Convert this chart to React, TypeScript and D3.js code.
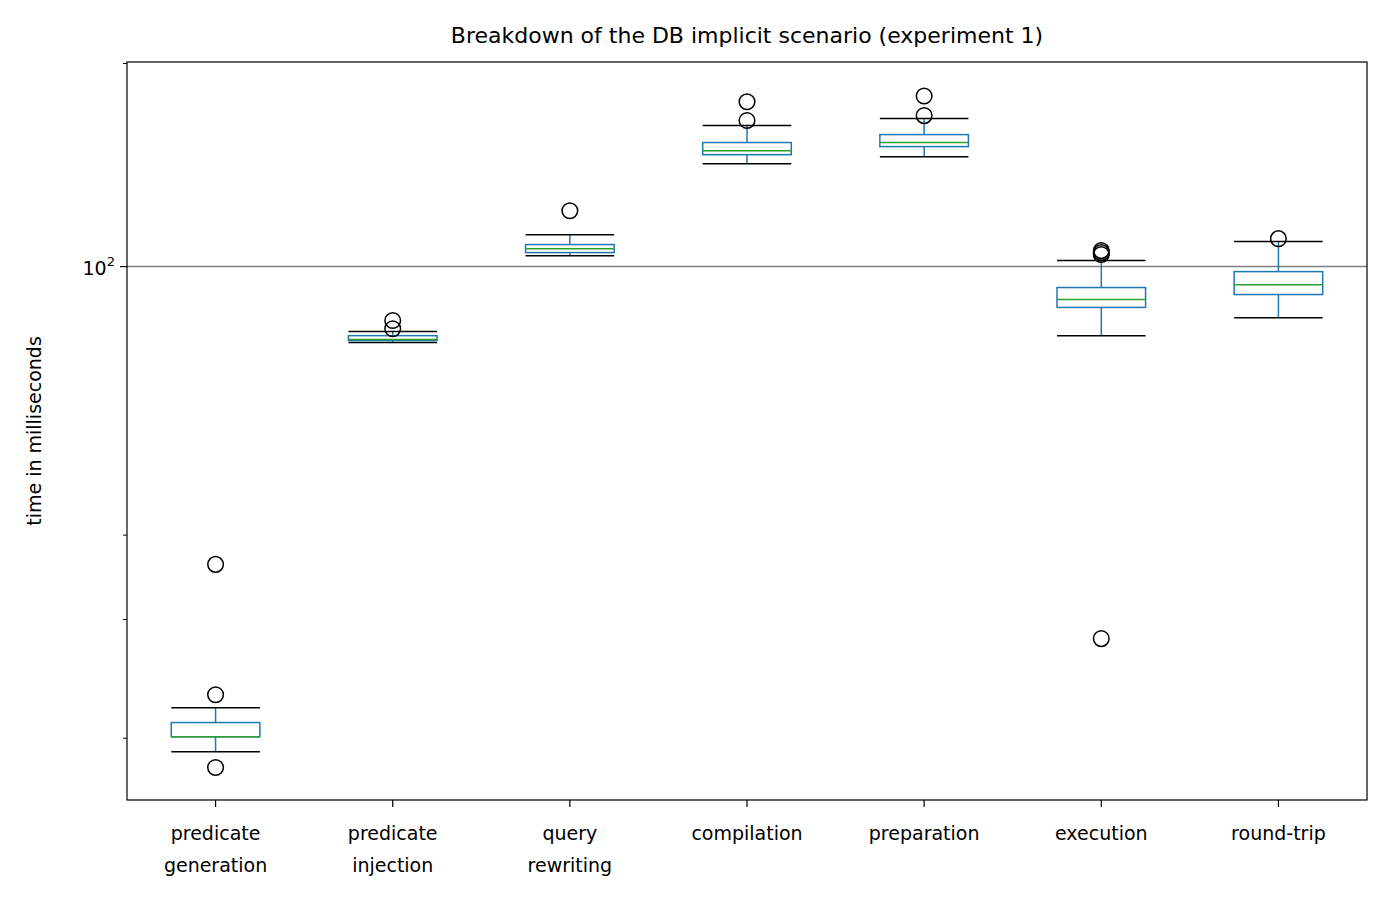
import React from 'react';
import { scaleBand, scaleLog } from 'd3';

const categories = ['predicate\ngeneration', 'predicate\ninjection', 'query\nrewriting', 'compilation', 'preparation', 'execution', 'round-trip'];
const whiskerLow = [19.1, 77.2, 103.8, 142.0, 145.5, 79.0, 84.0];
const q1 = [20.1, 77.7, 104.9, 146.5, 150.6, 87.0, 90.9];
const median = [20.1, 78.0, 106.3, 148.5, 152.7, 89.4, 94.0];
const q3 = [21.1, 79.0, 107.8, 152.7, 156.9, 93.1, 98.3];
const whiskerHigh = [22.2, 80.1, 111.5, 161.8, 165.7, 102.1, 108.9];
const outliers = [
  [18.1, 23.2, 36.2],
  [80.9, 83.2],
  [121.0],
  [164.6, 175.5],
  [167.4, 179.0],
  [104.9, 104.2, 105.6, 28.1],
  [110.0],
];
const minorTicks = [20, 30, 40, 200];

// page coords minus the 8px body margin
const m = { left: 119, top: 54, right: 1359, bottom: 792 };

const App = () => {
  const x = scaleBand().domain(categories).range([m.left, m.right]);
  const y = scaleLog().domain([16.2, 201]).range([m.bottom, m.top]);
  const bw = x.bandwidth() / 2;
  const blue = '#1f77b4';
  const font = 'DejaVu Sans';
  return (
    <svg width={1374} height={885} style={{ display: 'block' }} fontFamily={font}>
      <rect width={1374} height={885} fill="white" />
      <text x={(m.left + m.right) / 2} y={35} textAnchor="middle" fontSize={22}>
        Breakdown of the DB implicit scenario (experiment 1)
      </text>
      <line x1={m.left} x2={m.right} y1={y(100)} y2={y(100)} stroke="#808080" strokeWidth={1.5} />
      {categories.map((c, i) => {
        const cx = x(c)! + x.bandwidth() / 2;
        return (
          <g key={c}>
            <line x1={cx} x2={cx} y1={y(whiskerLow[i])} y2={y(q1[i])} stroke={blue} strokeWidth={1.5} />
            <line x1={cx} x2={cx} y1={y(q3[i])} y2={y(whiskerHigh[i])} stroke={blue} strokeWidth={1.5} />
            <line x1={cx - bw / 2} x2={cx + bw / 2} y1={y(whiskerLow[i])} y2={y(whiskerLow[i])} stroke="black" strokeWidth={1.5} />
            <line x1={cx - bw / 2} x2={cx + bw / 2} y1={y(whiskerHigh[i])} y2={y(whiskerHigh[i])} stroke="black" strokeWidth={1.5} />
            <rect x={cx - bw / 2} width={bw} y={y(q3[i])} height={Math.max(1, y(q1[i]) - y(q3[i]))} fill="none" stroke={blue} strokeWidth={1.5} />
            <line x1={cx - bw / 2} x2={cx + bw / 2} y1={y(median[i])} y2={y(median[i])} stroke="#2ca02c" strokeWidth={1.5} />
            {outliers[i].map((v, j) => (
              <circle key={j} cx={cx} cy={y(v)} r={7.8} fill="none" stroke="black" strokeWidth={1.5} />
            ))}
            <line x1={cx} x2={cx} y1={m.bottom} y2={m.bottom + 7} stroke="black" strokeWidth={1.2} />
            {c.split('\n').map((t, k) => (
              <text key={k} x={cx} y={m.bottom + 40 + k * 32} textAnchor="middle" fontSize={19}>{t}</text>
            ))}
          </g>
        );
      })}
      {minorTicks.map(t => (
        <line key={t} x1={m.left - 4} x2={m.left} y1={y(t)} y2={y(t)} stroke="black" strokeWidth={1} />
      ))}
      <line x1={m.left - 7} x2={m.left} y1={y(100)} y2={y(100)} stroke="black" strokeWidth={1.2} />
      <text x={m.left - 12} y={y(100) + 8} textAnchor="end" fontSize={19}>
        10<tspan dy={-9} fontSize={13}>2</tspan>
      </text>
      <rect x={m.left} y={m.top} width={m.right - m.left} height={m.bottom - m.top} fill="none" stroke="black" strokeWidth={1.2} />
      <text transform={`translate(33,${(m.top + m.bottom) / 2}) rotate(-90)`} textAnchor="middle" fontSize={19}>
        time in milliseconds
      </text>
    </svg>
  );
};

export default App;
